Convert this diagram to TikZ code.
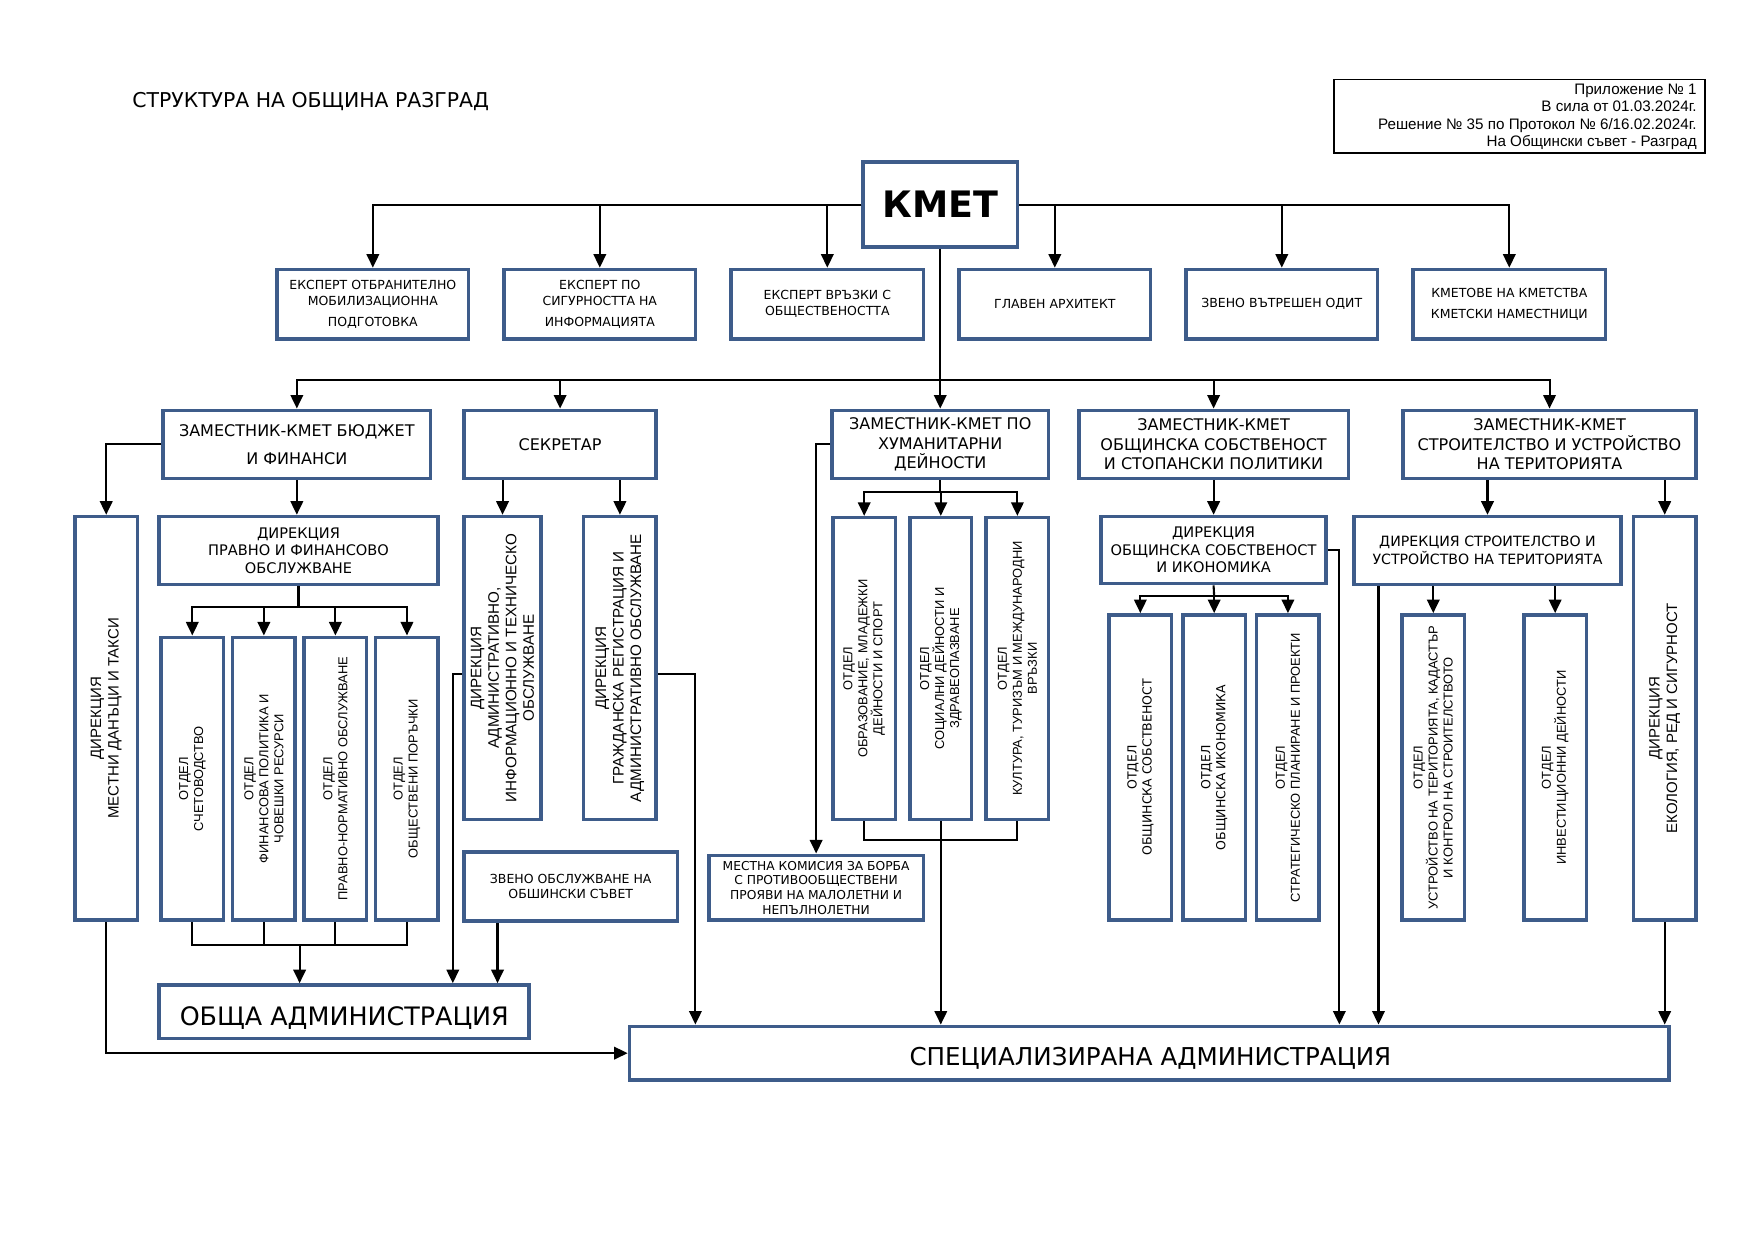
\documentclass[tikz,border=0pt]{standalone}
\usepackage{fontspec}
\setmainfont{DejaVu Sans}
\newfontfamily\ari{Liberation Sans}
\usetikzlibrary{arrows.meta}
\definecolor{bxblue}{RGB}{62,92,138}
\def\U{0.537pt}
\newcommand\obox[7]{\node[bx,#6,minimum width={(#4-#2)*\U},minimum height={(#5-#3)*\U}] (#1) at ({(#2+#4)/2},{(#3+#5)/2}) {#7};}
\tikzset{
  bx/.style={draw=bxblue, line width=1.7pt, fill=white, inner sep=0.5pt, align=center, font=\fontsize{6}{7.5}\selectfont},
  ft8/.style={font=\fontsize{7.7}{9.4}\selectfont},
  ft7/.style={font=\fontsize{7}{8.3}\selectfont},
  ft68/.style={font=\fontsize{6.8}{8.6}\selectfont},
  ft59/.style={font=\fontsize{5.9}{7.1}\selectfont},
  ln/.style={line width=1pt, draw=black},
  ar/.style={ln, -{Triangle[length=6.5pt,width=6pt]}},
  vt/.style={rotate=90, align=center, inner sep=0pt, font=\ari\fontsize{6.2}{7.2}\selectfont},
  vtb/.style={rotate=90, align=center, inner sep=0pt, font=\ari\fontsize{7.2}{8.5}\selectfont},
  vtc/.style={rotate=90, align=center, inner sep=0pt, font=\ari\fontsize{7.3}{8.4}\selectfont},
  vtd/.style={rotate=90, align=center, inner sep=0pt, font=\fontsize{6}{7.2}\selectfont},
}
\begin{document}
\begin{tikzpicture}[x=0.537pt,y=-0.537pt]
\useasboundingbox (0,0) rectangle (1568,1108);

% title and info box
\node[anchor=west, inner sep=0, font=\fontsize{9.8}{11}\selectfont] (title) at (118,91) {СТРУКТУРА НА ОБЩИНА РАЗГРАД};
\node[draw=black, line width=0.8pt, minimum width={332*\U}, minimum height={66*\U}, inner sep=0] (info) at (1359,104) {};
\node[anchor=east, align=right, inner sep=0, font=\ari\fontsize{7.3}{8.3}\selectfont] (infot) at (1518,104.5) {Приложение № 1\\В сила от 01.03.2024г.\\Решение № 35 по Протокол № 6/16.02.2024г.\\На Общински съвет - Разград};

% top
\obox{kmet}{772}{145}{910}{221}{font=\bfseries\fontsize{17.5}{20}\selectfont}{КМЕТ}
\obox{e1}{248}{241}{419}{303}{}{ЕКСПЕРТ ОТБРАНИТЕЛНО\\МОБИЛИЗАЦИОННА\\[2.6pt]ПОДГОТОВКА}
\obox{e2}{451}{241}{622}{303}{}{ЕКСПЕРТ ПО\\СИГУРНОСТТА НА\\[2.6pt]ИНФОРМАЦИЯТА}
\obox{e3}{654}{241}{826}{303}{}{ЕКСПЕРТ ВРЪЗКИ С\\ОБЩЕСТВЕНОСТТА}
\obox{e4}{858}{241}{1029}{303}{}{ГЛАВЕН АРХИТЕКТ}
\obox{e5}{1061}{241}{1232}{303}{}{ЗВЕНО ВЪТРЕШЕН ОДИТ}
\obox{e6}{1264}{241}{1436}{303}{}{КМЕТОВЕ НА КМЕТСТВА\\[2.6pt]КМЕТСКИ НАМЕСТНИЦИ}

% row 2
\obox{bud}{146}{367}{385}{428}{ft8}{ЗАМЕСТНИК-КМЕТ БЮДЖЕТ\\[4pt]И ФИНАНСИ}
\obox{sek}{415}{367}{587}{428}{ft8}{СЕКРЕТАР}
\obox{hum}{744}{367}{938}{428}{ft8}{ЗАМЕСТНИК-КМЕТ ПО\\ХУМАНИТАРНИ\\ДЕЙНОСТИ}
\obox{obs}{965}{367}{1206}{428}{ft8}{ЗАМЕСТНИК-КМЕТ\\ОБЩИНСКА СОБСТВЕНОСТ\\И СТОПАНСКИ ПОЛИТИКИ}
\obox{str}{1255}{367}{1517}{428}{ft8}{ЗАМЕСТНИК-КМЕТ\\СТРОИТЕЛСТВО И УСТРОЙСТВО\\НА ТЕРИТОРИЯТА}

% budget branch
\obox{mdt}{67}{462}{123}{823}{}{}
\node[vtb] (mdt-t) at (mdt.center) {ДИРЕКЦИЯ\\МЕСТНИ ДАНЪЦИ И ТАКСИ};
\obox{dpf}{142}{462}{392}{523}{ft7}{ДИРЕКЦИЯ\\ПРАВНО И ФИНАНСОВО\\ОБСЛУЖВАНЕ}
\obox{o1}{144}{570}{200}{823}{}{}
\obox{o2}{208}{570}{264}{823}{}{}
\obox{o3}{272}{570}{328}{823}{}{}
\obox{o4}{336}{570}{392}{823}{}{}
\node[vt] (o1-t) at (o1.center) {ОТДЕЛ\\СЧЕТОВОДСТВО};
\node[vt] (o2-t) at (o2.center) {ОТДЕЛ\\ФИНАНСОВА ПОЛИТИКА И\\ЧОВЕШКИ РЕСУРСИ};
\node[vt] (o3-t) at (o3.center) {ОТДЕЛ\\ПРАВНО-НОРМАТИВНО ОБСЛУЖВАНЕ};
\node[vt] (o4-t) at (o4.center) {ОТДЕЛ\\ОБЩЕСТВЕНИ ПОРЪЧКИ};
\obox{oa}{142}{881}{473}{929}{}{}
\node[inner sep=0, font=\fontsize{12.2}{14}\selectfont] (oa-t) at (308,911) {ОБЩА АДМИНИСТРАЦИЯ};

% secretary branch
\obox{dai}{415}{462}{484}{733}{}{}
\node[vtc] (dai-t) at (dai.center) {ДИРЕКЦИЯ\\АДМИНИСТРАТИВНО,\\ИНФОРМАЦИОННО И ТЕХНИЧЕСКО\\ОБСЛУЖВАНЕ};
\obox{grao}{522}{462}{587}{733}{}{}
\node[vtc] (grao-t) at (grao.center) {ДИРЕКЦИЯ\\ГРАЖДАНСКА РЕГИСТРАЦИЯ И\\АДМИНИСТРАТИВНО ОБСЛУЖВАНЕ};
\obox{zv}{415}{762}{606}{824}{}{ЗВЕНО ОБСЛУЖВАНЕ НА\\ОБШИНСКИ СЪВЕТ}

% humanitarian branch
\obox{mk}{634}{765}{826}{823}{ft59}{МЕСТНА КОМИСИЯ ЗА БОРБА\\С ПРОТИВООБЩЕСТВЕНИ\\ПРОЯВИ НА МАЛОЛЕТНИ И\\НЕПЪЛНОЛЕТНИ}
\obox{h1}{745}{463}{801}{733}{}{}
\obox{h2}{814}{463}{869}{733}{}{}
\obox{h3}{882}{463}{938}{733}{}{}
\node[vt] (h1-t) at (h1.center) {ОТДЕЛ\\ОБРАЗОВАНИЕ, МЛАДЕЖКИ\\ДЕЙНОСТИ И СПОРТ};
\node[vt] (h2-t) at (h2.center) {ОТДЕЛ\\СОЦИАЛНИ ДЕЙНОСТИ И\\ЗДРАВЕОПАЗВАНЕ};
\node[vt] (h3-t) at (h3.center) {ОТДЕЛ\\КУЛТУРА, ТУРИЗЪМ И МЕЖДУНАРОДНИ\\ВРЪЗКИ};

% property branch
\obox{dos}{985}{462}{1186}{522}{ft7}{ДИРЕКЦИЯ\\ОБЩИНСКА СОБСТВЕНОСТ\\И ИКОНОМИКА}
\obox{s1}{992}{550}{1048}{823}{}{}
\obox{s2}{1058}{550}{1114}{823}{}{}
\obox{s3}{1124}{550}{1180}{823}{}{}
\node[vtd] (s1-t) at (s1.center) {ОТДЕЛ\\ОБЩИНСКА СОБСТВЕНОСТ};
\node[vtd] (s2-t) at (s2.center) {ОТДЕЛ\\ОБЩИНСКА ИКОНОМИКА};
\node[vt] (s3-t) at (s3.center) {ОТДЕЛ\\СТРАТЕГИЧЕСКО ПЛАНИРАНЕ И ПРОЕКТИ};

% construction branch
\obox{dst}{1211}{462}{1450}{523}{ft68}{ДИРЕКЦИЯ СТРОИТЕЛСТВО И\\УСТРОЙСТВО НА ТЕРИТОРИЯТА}
\obox{t1}{1254}{550}{1310}{823}{}{}
\obox{t2}{1363}{550}{1419}{823}{}{}
\node[vt] (t1-t) at (t1.center) {ОТДЕЛ\\УСТРОЙСТВО НА ТЕРИТОРИЯТА, КАДАСТЪР\\И КОНТРОЛ НА СТРОИТЕЛСТВОТО};
\node[vt] (t2-t) at (t2.center) {ОТДЕЛ\\ИНВЕСТИЦИОННИ ДЕЙНОСТИ};
\obox{eko}{1461}{462}{1517}{823}{}{}
\node[vtb] (eko-t) at (eko.center) {ДИРЕКЦИЯ\\ЕКОЛОГИЯ, РЕД И СИГУРНОСТ};

% specialised administration
\obox{spec}{563}{918}{1493}{966}{}{}
\node[inner sep=0, font=\fontsize{11.8}{14}\selectfont] (spec-t) at (1029,947) {СПЕЦИАЛИЗИРАНА АДМИНИСТРАЦИЯ};

% helper coordinates
\coordinate (bus2) at (841,340);
\coordinate (bus3) at (267,543);
\coordinate (bus4) at (268,845);
\coordinate (bus5) at (841,440);
\coordinate (bus6) at (1086,533);
\coordinate (y751) at (0,751);
\coordinate (y603) at (0,603);
\coordinate (x405) at (405,0);
\coordinate (x445) at (445,0);
\coordinate (x622) at (622,0);
\coordinate (x1198) at (1198,0);
\coordinate (x1233) at (1233,0);

% connectors
\foreach \n in {e1,e2,e3} \draw[ar] (kmet.west) -| (\n.north);
\foreach \n in {e4,e5,e6} \draw[ar] (kmet.east) -| (\n.north);
\draw[ar] (kmet.south) -- (hum.north);
\foreach \n in {bud,sek,obs,str} \draw[ar] (bus2) -| (\n.north);

\draw[ar] (bud.west) -| (mdt.north);
\draw[ar] (bud.south) -- (bud.south |- dpf.north);
\draw[ln] (dpf.south) -- (bus3);
\foreach \n in {o1,o2,o3,o4} \draw[ar] (bus3) -| (\n.north);
\draw[ln] (o1.south) |- (bus4);
\draw[ln] (o4.south) |- (bus4);
\draw[ln] (o2.south) -- (o2.south |- bus4);
\draw[ln] (o3.south) -- (o3.south |- bus4);
\draw[ar] (bus4) -- (bus4 |- oa.north);

\draw[ar] (sek.south -| dai.north) -- (dai.north);
\draw[ar] (sek.south -| grao.north) -- (grao.north);
\draw[ar] (dai.west |- y603) -| (x405 |- oa.north);
\draw[ar] (zv.south -| x445) -- (x445 |- oa.north);
\draw[ar] (grao.east |- y603) -| (x622 |- spec.north);

\draw[ar] (hum.west) -| (mk.north);
\draw[ln] (hum.south) -- (bus5);
\foreach \n in {h1,h2,h3} \draw[ar] (bus5) -| (\n.north);
\draw[ln] (h1.south) |- (h3.south |- y751) -- (h3.south);
\draw[ar] (h2.south) -- (h2.south |- spec.north);

\draw[ar] (obs.south) -- (dos.north);
\draw[ln] (dos.south) -- (bus6);
\foreach \n in {s1,s2,s3} \draw[ar] (bus6) -| (\n.north);
\draw[ar] (dos.east) -| (x1198 |- spec.north);

\draw[ar] (str.south -| dst.north) -- (dst.north);
\draw[ar] (str.south -| eko.north) -- (eko.north);
\draw[ar] (dst.south -| x1233) -- (x1233 |- spec.north);
\draw[ar] (dst.south -| t1.north) -- (t1.north);
\draw[ar] (dst.south -| t2.north) -- (t2.north);
\draw[ar] (eko.south) -- (eko.south |- spec.north);
\draw[ar] (mdt.south) |- (spec.west);
\end{tikzpicture}
\end{document}
